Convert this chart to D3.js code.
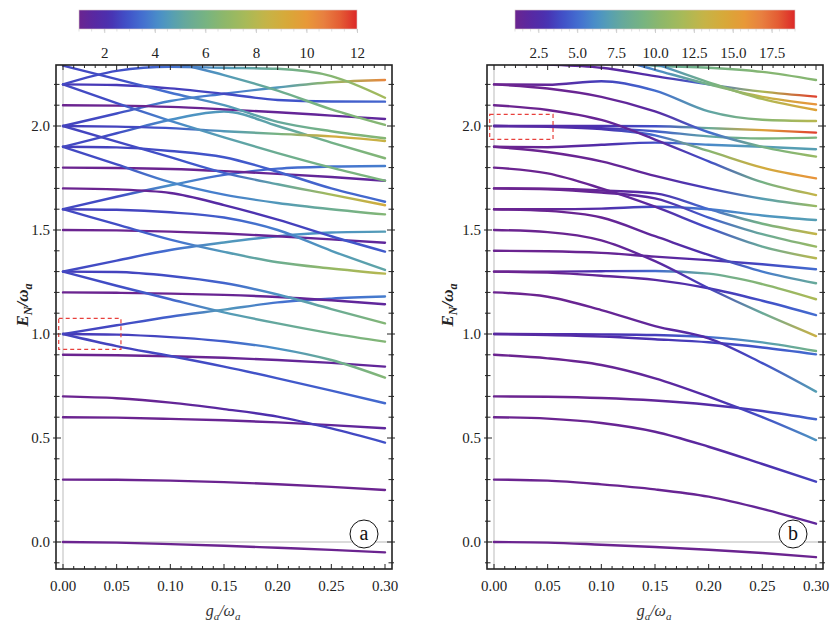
<!DOCTYPE html>
<html>
<head>
<meta charset="utf-8">
<script src="https://cdn.jsdelivr.net/npm/d3@7"></script>
<style>
  body { margin: 0; background: #fff; }
  svg { display: block; }
</style>
</head>
<body>
<svg id="chart" width="831" height="630"></svg>
<script>
// coupling values where each level is sampled
const gGrid = [0, 0.05, 0.10, 0.15, 0.20, 0.25, 0.30];

// panel (a): energies E_N/w_a of every level at gGrid
const energyA = [
  [0, -0.003, -0.01, -0.018, -0.028, -0.038, -0.05],
  [0.3, 0.299, 0.295, 0.288, 0.278, 0.265, 0.25],
  [0.6, 0.598, 0.592, 0.585, 0.575, 0.562, 0.547],
  [0.7, 0.691, 0.67, 0.639, 0.603, 0.546, 0.478],
  [0.9, 0.898, 0.893, 0.886, 0.875, 0.861, 0.843],
  [1.0, 0.942, 0.894, 0.843, 0.787, 0.728, 0.667],
  [1.0, 0.997, 0.985, 0.965, 0.93, 0.875, 0.79],
  [1.0, 1.042, 1.083, 1.117, 1.152, 1.17, 1.18],
  [1.2, 1.198, 1.194, 1.188, 1.178, 1.162, 1.143],
  [1.3, 1.232, 1.167, 1.104, 1.051, 1.003, 0.963],
  [1.3, 1.298, 1.279, 1.245, 1.19, 1.12, 1.051],
  [1.3, 1.353, 1.404, 1.44, 1.47, 1.488, 1.492],
  [1.5, 1.498, 1.492, 1.483, 1.47, 1.455, 1.439],
  [1.6, 1.527, 1.454, 1.395, 1.345, 1.315, 1.29],
  [1.6, 1.597, 1.585, 1.56, 1.5, 1.4, 1.308],
  [1.6, 1.66, 1.715, 1.765, 1.795, 1.805, 1.808],
  [1.7, 1.695, 1.678, 1.62, 1.55, 1.47, 1.396],
  [1.8, 1.798, 1.793, 1.783, 1.77, 1.755, 1.737],
  [1.9, 1.815, 1.73, 1.67, 1.63, 1.6, 1.575],
  [1.9, 1.897, 1.88, 1.85, 1.78, 1.7, 1.636],
  [1.9, 1.965, 2.03, 2.07, 2.0, 1.92, 1.845],
  [2.0, 1.925, 1.85, 1.775, 1.72, 1.67, 1.619],
  [2.0, 1.997, 1.99, 1.975, 1.962, 1.95, 1.928],
  [2.0, 2.06, 2.12, 2.155, 2.185, 2.21, 2.221],
  [2.1, 2.098, 2.092, 2.08, 2.066, 2.05, 2.034],
  [2.2, 2.11, 2.025, 1.945, 1.87, 1.8, 1.737],
  [2.2, 2.197, 2.181, 2.155, 2.125, 2.118, 2.117],
  [2.2, 2.265, 2.285, 2.28, 2.275, 2.24, 2.136],
  [2.29, 2.225, 2.16, 2.1, 2.02, 1.975, 1.941],
  [2.45, 2.38, 2.31, 2.245, 2.17, 2.08, 2.005]
];
// panel (a): colour value of every level at gGrid
const colorA = [
  [1, 1, 1, 1, 1, 1, 1],
  [1, 1, 1, 1, 1, 1, 1],
  [1, 1, 1, 1.1, 1.2, 1.3, 1.4],
  [1, 1, 1.2, 1.6, 2.2, 2.6, 2.9],
  [1, 1, 1, 1.1, 1.2, 1.3, 1.3],
  [2.6, 2.6, 2.7, 2.8, 3, 3.2, 3.4],
  [2.4, 2.5, 2.7, 3.2, 4.2, 5.5, 6.4],
  [2.6, 2.7, 3.2, 4.5, 3.6, 3.4, 3.8],
  [1, 1, 1, 1.1, 1.2, 1.3, 1.4],
  [2.7, 2.8, 3.3, 4.5, 5.2, 5.8, 6.4],
  [2.5, 2.6, 2.8, 3.3, 4.3, 5.3, 6.4],
  [2.7, 2.8, 3.5, 4.5, 4.2, 4.3, 4.6],
  [1, 1, 1, 1.1, 1.2, 1.3, 1.4],
  [2.7, 2.8, 3.5, 4.5, 5.5, 7, 8],
  [2.5, 2.6, 2.7, 3.2, 3.8, 4.5, 5],
  [2.7, 2.8, 4.2, 3.4, 3.4, 3.6, 3.8],
  [1, 1, 1.3, 1.8, 2.4, 2.9, 3.1],
  [1, 1, 1, 1.1, 1.2, 1.3, 1.4],
  [2.7, 2.8, 4, 3.8, 4.5, 5.5, 6.4],
  [2.5, 2.6, 2.8, 3, 3.2, 3.3, 3.4],
  [2.7, 2.8, 4.2, 4.5, 5, 5.8, 6.4],
  [2.6, 2.7, 2.9, 3.2, 5, 7.5, 9],
  [2.5, 2.6, 3, 4.5, 6, 9, 8.5],
  [2.6, 2.8, 4, 3.6, 4.5, 7, 10.5],
  [1, 1, 1, 1.1, 1.2, 1.3, 1.4],
  [2.7, 2.8, 4, 4.7, 5.5, 6, 6.2],
  [2.4, 2.4, 2.5, 2.7, 2.9, 3.1, 3.3],
  [2.7, 2.8, 3.5, 4.5, 5.5, 6.5, 7.5],
  [2.7, 2.8, 3.5, 4.5, 5.2, 6, 6.5],
  [2.7, 2.8, 3.5, 4.5, 5.5, 6.2, 6.5]
];

// panel (b)
const energyB = [
  [0, -0.003, -0.013, -0.024, -0.037, -0.053, -0.073],
  [0.3, 0.295, 0.277, 0.253, 0.218, 0.159, 0.088],
  [0.6, 0.593, 0.572, 0.53, 0.458, 0.375, 0.29],
  [0.7, 0.698, 0.692, 0.68, 0.66, 0.63, 0.59],
  [0.9, 0.883, 0.851, 0.787, 0.699, 0.6, 0.49],
  [1.0, 0.999, 0.998, 0.995, 0.985, 0.96, 0.918],
  [1.0, 0.995, 0.988, 0.975, 0.96, 0.935, 0.902],
  [1.2, 1.179, 1.115, 1.038, 0.979, 0.86, 0.723],
  [1.3, 1.3, 1.302, 1.303, 1.29, 1.24, 1.167],
  [1.3, 1.295, 1.28, 1.26, 1.22, 1.16, 1.091],
  [1.4, 1.398, 1.39, 1.372, 1.355, 1.335, 1.311],
  [1.5, 1.49, 1.45, 1.35, 1.22, 1.1, 0.99],
  [1.6, 1.592, 1.56, 1.47, 1.38, 1.3, 1.244],
  [1.6, 1.6, 1.603, 1.612, 1.6, 1.57, 1.548],
  [1.7, 1.698, 1.69, 1.676, 1.6, 1.53, 1.481],
  [1.7, 1.696, 1.68, 1.652, 1.56, 1.48, 1.42],
  [1.8, 1.772, 1.7, 1.612, 1.51, 1.42, 1.364],
  [1.9, 1.898, 1.91, 1.92, 1.91, 1.9, 1.888],
  [1.9, 1.875, 1.83, 1.76, 1.7, 1.65, 1.615],
  [2.0, 2.0, 2.0, 1.999, 1.99, 1.98, 1.968],
  [2.0, 1.998, 1.99, 1.975, 1.95, 1.94, 1.944],
  [2.0, 1.996, 1.985, 1.955, 1.88, 1.8, 1.748],
  [2.1, 2.077, 2.029, 1.935, 1.83, 1.73, 1.668],
  [2.2, 2.198, 2.215, 2.17, 2.07, 2.03, 2.024],
  [2.2, 2.18, 2.14, 2.07, 1.97, 1.9, 1.853],
  [2.3, 2.295, 2.28, 2.24, 2.2, 2.165, 2.141],
  [2.35, 2.33, 2.31, 2.29, 2.28, 2.26, 2.221],
  [2.45, 2.4, 2.34, 2.27, 2.2, 2.14, 2.104],
  [2.55, 2.47, 2.39, 2.3, 2.21, 2.13, 2.077]
];
const colorB = [
  [1, 1, 1, 1, 1, 1, 1],
  [1, 1, 1, 1.1, 1.2, 1.4, 1.6],
  [1, 1, 1.1, 1.4, 2, 2.8, 3.6],
  [1, 1, 1.1, 1.5, 2.3, 3.5, 4.8],
  [1, 1, 1.2, 1.6, 2.5, 4, 6.5],
  [2, 2.5, 3, 3.5, 5, 7, 9],
  [2, 2.2, 2.5, 3, 3.6, 4.2, 5],
  [1, 1, 1.2, 1.6, 2.5, 4, 7],
  [1, 1.5, 3, 5, 8, 10, 12],
  [1, 1.1, 1.4, 2, 3, 4, 5],
  [1, 1, 1.2, 1.6, 2.5, 3.8, 5],
  [1, 1, 1.2, 1.8, 3.5, 8, 13.5],
  [1, 1, 1.2, 1.7, 3, 5.5, 8],
  [1, 1.3, 2.5, 4, 5.5, 6.5, 7],
  [1, 1, 1.4, 2.5, 5, 9, 13],
  [1, 1, 1.3, 2.2, 4.5, 8, 11],
  [1, 1, 1.3, 2, 4, 8, 12.5],
  [1, 1.3, 2.5, 4, 6, 7, 7],
  [1, 1, 1.2, 1.7, 3.5, 7, 11],
  [2, 2.3, 3, 4, 8, 15, 18.5],
  [2, 2.3, 3, 4.5, 7.5, 9.5, 9.5],
  [2, 2.3, 3, 5, 10, 14, 16],
  [1, 1, 1.2, 1.8, 4, 9, 13],
  [1, 1.5, 3.5, 5, 7.5, 10, 12.5],
  [1, 1, 1.2, 2, 5, 9, 11],
  [1.5, 1.5, 1.8, 2.5, 5, 12, 18.5],
  [3, 4, 6, 8, 9, 10, 10],
  [2, 2.5, 4, 6, 9, 13, 16],
  [2, 2.5, 4, 6, 9, 12, 15]
];

// axes and colour bars
const xTicks = [0, 0.05, 0.10, 0.15, 0.20, 0.25, 0.30];
const yTicks = [0, 0.5, 1.0, 1.5, 2.0];
const cbDomainA = [1, 12];
const cbTicksA = [2, 4, 6, 8, 10, 12];
const cbDomainB = [1, 19];
const cbTicksB = [2.5, 5.0, 7.5, 10.0, 12.5, 15.0, 17.5];
// dashed zoom boxes [g0, g1, E0, E1]
const boxA = [-0.004, 0.054, 0.926, 1.075];
const boxB = [-0.004, 0.055, 1.936, 2.056];

// Mathematica-like "Rainbow" ramp
const rampT = [0, 0.05, 0.11, 0.17, 0.23, 0.29, 0.34, 0.39, 0.46, 0.53, 0.60, 0.67, 0.75, 0.82, 0.88, 0.94, 1];
const rampC = ["#6b2490", "#5a28a0", "#4a30b0", "#4050c8", "#4470d0", "#4a90c8", "#58a0b0", "#68aa98",
               "#78b480", "#90b868", "#a8ba58", "#c4b448", "#d8a838", "#e89838", "#e88040", "#e45c34", "#dc2828"];
const ramp = d3.scaleLinear().domain(rampT).range(rampC).interpolate(d3.interpolateRgb).clamp(true);

const svg = d3.select("#chart");
const defs = svg.append("defs");
const serif = "'Liberation Serif', 'DejaVu Serif', serif";

const frameTop = 65, frameBottom = 569;
const y = d3.scaleLinear().domain([0, 2]).range([542, 126]);

const panels = [
  { id: "a", energy: energyA, weight: colorA, cbDomain: cbDomainA, cbTicks: cbTicksA, cbFmt: d3.format("d"),
    cbMinor: 0.5, left: 56, right: 392, x0: 63, x1: 385, cbX: 79, cbW: 278, ylabX: 22, xlabX: 223, tagX: 364, box: boxA },
  { id: "b", energy: energyB, weight: colorB, cbDomain: cbDomainB, cbTicks: cbTicksB, cbFmt: d3.format(".1f"),
    cbMinor: 0.5, left: 487, right: 823, x0: 494, x1: 816, cbX: 515, cbW: 280, ylabX: 447, xlabX: 654, tagX: 793, box: boxB }
];

panels.forEach(p => {
  const x = d3.scaleLinear().domain([0, 0.3]).range([p.x0, p.x1]);
  const cScale = d3.scaleLinear().domain(p.cbDomain).range([0, 1]);
  const colorOf = v => ramp(cScale(v));
  const g = svg.append("g");

  // colour bar
  const cbx = d3.scaleLinear().domain(p.cbDomain).range([p.cbX, p.cbX + p.cbW]);
  const cbGrad = defs.append("linearGradient").attr("id", "cb" + p.id);
  cbGrad.selectAll("stop").data(d3.range(0, 1.0001, 0.02)).join("stop")
    .attr("offset", d => d)
    .attr("stop-color", d => ramp(d));
  g.append("rect")
    .attr("x", p.cbX).attr("y", 10).attr("width", p.cbW).attr("height", 19)
    .attr("fill", `url(#cb${p.id})`)
    .attr("stroke", "#d8c8c8").attr("stroke-width", 0.6);
  g.append("g").selectAll("line")
    .data(d3.range(p.cbDomain[0], p.cbDomain[1] + 0.001, p.cbMinor))
    .join("line")
    .attr("x1", d => cbx(d)).attr("x2", d => cbx(d))
    .attr("y1", 29).attr("y2", 31.5)
    .attr("stroke", "#ccc").attr("stroke-width", 0.6);
  const cbAxis = g.append("g")
    .attr("transform", "translate(0,29)")
    .call(d3.axisBottom(cbx).tickValues(p.cbTicks).tickFormat(p.cbFmt).tickSize(4).tickPadding(14));
  cbAxis.select(".domain").remove();
  cbAxis.selectAll("line").attr("stroke", "#bbb").attr("stroke-width", 0.7);
  cbAxis.selectAll("text").attr("font-family", serif).attr("font-size", 15).attr("fill", "#222");

  // clip to frame
  defs.append("clipPath").attr("id", "clip" + p.id)
    .append("rect")
    .attr("x", p.left).attr("y", frameTop)
    .attr("width", p.right - p.left).attr("height", frameBottom - frameTop);
  const plot = g.append("g").attr("clip-path", `url(#clip${p.id})`);

  // light zero lines
  plot.append("line")
    .attr("x1", x(0)).attr("x2", x(0)).attr("y1", frameTop).attr("y2", frameBottom)
    .attr("stroke", "#cfcfcf").attr("stroke-width", 1.4);
  plot.append("line")
    .attr("x1", p.left).attr("x2", p.right).attr("y1", y(0)).attr("y2", y(0))
    .attr("stroke", "#cfcfcf").attr("stroke-width", 1.4);

  // levels, coloured along g with a horizontal gradient
  const line = d3.line()
    .x((d, j) => x(gGrid[j]))
    .y(d => y(d))
    .curve(d3.curveMonotoneX);

  p.energy.forEach((E, i) => {
    const grad = defs.append("linearGradient")
      .attr("id", `lv${p.id}${i}`)
      .attr("gradientUnits", "userSpaceOnUse")
      .attr("x1", x(0)).attr("x2", x(0.3)).attr("y1", 0).attr("y2", 0);
    grad.selectAll("stop").data(gGrid).join("stop")
      .attr("offset", d => d / 0.3)
      .attr("stop-color", (d, j) => colorOf(p.weight[i][j]));
  });

  plot.selectAll("path.level")
    .data(p.energy)
    .join("path")
    .attr("class", "level")
    .attr("d", d => line(d))
    .attr("fill", "none")
    .attr("stroke", (d, i) => `url(#lv${p.id}${i})`)
    .attr("stroke-width", 2.4)
    .attr("stroke-linecap", "round");

  // dashed zoom box
  g.append("rect")
    .attr("x", x(p.box[0])).attr("y", y(p.box[3]))
    .attr("width", x(p.box[1]) - x(p.box[0]))
    .attr("height", y(p.box[2]) - y(p.box[3]))
    .attr("fill", "none").attr("stroke", "#e8403c")
    .attr("stroke-width", 1.2).attr("stroke-dasharray", "4,3");

  // frame
  g.append("rect")
    .attr("x", p.left).attr("y", frameTop)
    .attr("width", p.right - p.left).attr("height", frameBottom - frameTop)
    .attr("fill", "none").attr("stroke", "#222").attr("stroke-width", 1.6);

  // x ticks (bottom and top, inward)
  const xMinor = d3.range(0, 30.5, 1).map(d => d / 100);
  const ticks = g.append("g").attr("stroke", "#222").attr("stroke-width", 1);
  [frameBottom, frameTop].forEach((yy, k) => {
    const dir = k === 0 ? -1 : 1;
    ticks.append("g").selectAll("line").data(xMinor).join("line")
      .attr("x1", d => x(d)).attr("x2", d => x(d))
      .attr("y1", yy)
      .attr("y2", d => yy + dir * (xTicks.some(t => Math.abs(t - d) < 1e-6) ? 5 : 3));
  });
  // y ticks (left and right, crossing the frame)
  const yMinor = d3.range(-1, 23, 1).map(d => d / 10);
  [p.left, p.right].forEach((xx, k) => {
    const dir = k === 0 ? 1 : -1;
    ticks.append("g").selectAll("line").data(yMinor).join("line")
      .attr("y1", d => y(d)).attr("y2", d => y(d))
      .attr("x1", d => xx - dir * (yTicks.some(t => Math.abs(t - d) < 1e-6) ? 3 : 2))
      .attr("x2", d => xx + dir * (yTicks.some(t => Math.abs(t - d) < 1e-6) ? 5 : 3.5));
  });

  // tick labels
  g.append("g").selectAll("text").data(xTicks).join("text")
    .attr("x", d => x(d)).attr("y", 591)
    .attr("text-anchor", "middle")
    .attr("font-family", serif).attr("font-size", 15).attr("fill", "#222")
    .text(d3.format(".2f"));
  g.append("g").selectAll("text").data(yTicks).join("text")
    .attr("x", p.left - 6).attr("y", d => y(d) + 5)
    .attr("text-anchor", "end")
    .attr("font-family", serif).attr("font-size", 15).attr("fill", "#222")
    .text(d3.format(".1f"));

  // axis titles
  const yl = g.append("text")
    .attr("transform", `translate(${p.ylabX + 6},305) rotate(-90)`)
    .attr("text-anchor", "middle")
    .attr("font-family", serif).attr("font-size", 17)
    .attr("font-weight", "bold").attr("font-style", "italic").attr("fill", "#222");
  yl.append("tspan").text("E");
  yl.append("tspan").attr("dy", 4).attr("font-size", 12).text("N");
  yl.append("tspan").attr("dy", -4).text("/ω");
  yl.append("tspan").attr("dy", 4).attr("font-size", 12).text("a");

  const xl = g.append("text")
    .attr("x", p.xlabX).attr("y", 616)
    .attr("text-anchor", "middle")
    .attr("font-family", serif).attr("font-size", 16)
    .attr("font-style", "italic").attr("fill", "#333");
  xl.append("tspan").text("g");
  xl.append("tspan").attr("dy", 4).attr("font-size", 11).text("a");
  xl.append("tspan").attr("dy", -4).text("/ω");
  xl.append("tspan").attr("dy", 4).attr("font-size", 11).text("a");

  // panel tag
  g.append("circle")
    .attr("cx", p.tagX).attr("cy", 534).attr("r", 14)
    .attr("fill", "#fff").attr("stroke", "#111").attr("stroke-width", 1);
  g.append("text")
    .attr("x", p.tagX).attr("y", 540)
    .attr("text-anchor", "middle")
    .attr("font-family", serif).attr("font-size", 20).attr("fill", "#111")
    .text(p.id);
});
</script>
</body>
</html>
